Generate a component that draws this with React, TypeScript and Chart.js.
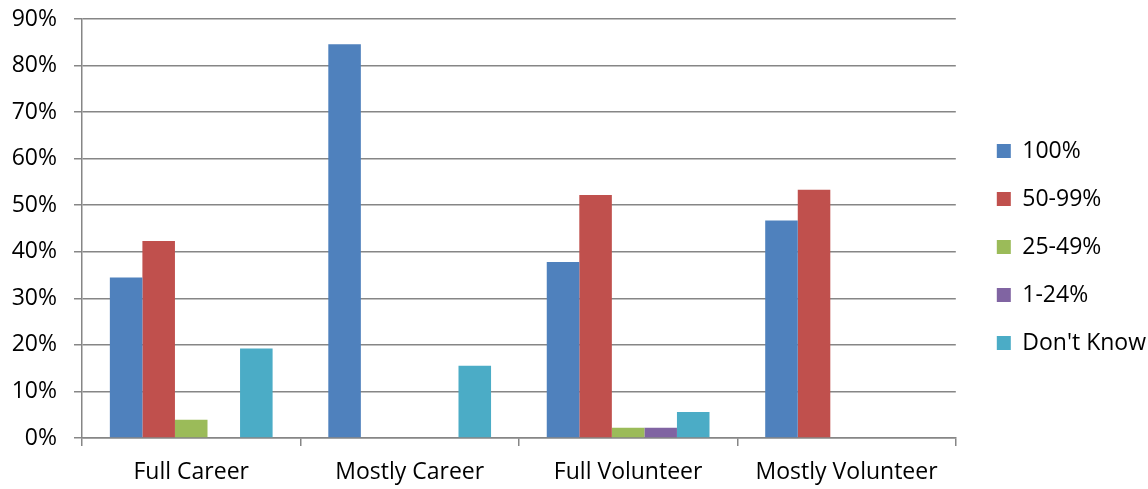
import React, { useEffect, useRef } from "react";
import { Chart, registerables } from "chart.js";

Chart.register(...registerables);

const categories = ["Full Career", "Mostly Career", "Full Volunteer", "Mostly Volunteer"];
const seriesNames = ["100%", "50-99%", "25-49%", "1-24%", "Don't Know"];
const s100 = [34.5, 84.6, 37.8, 46.7];
const s50to99 = [42.3, 0, 52.2, 53.3];
const s25to49 = [3.9, 0, 2.2, 0];
const s1to24 = [0, 0, 2.2, 0];
const sDontKnow = [19.2, 15.5, 5.6, 0];
const seriesColors = ["#4F81BD", "#C0504D", "#9BBB59", "#8064A2", "#4BACC6"];
const yTicks = [0, 10, 20, 30, 40, 50, 60, 70, 80, 90];

const FONT = "'Open Sans', sans-serif";

export default function App() {
  const ref = useRef<HTMLCanvasElement | null>(null);
  useEffect(() => {
    if (!ref.current) return;
    const values = [s100, s50to99, s25to49, s1to24, sDontKnow];
    const chart = new Chart(ref.current, {
      type: "bar",
      data: {
        labels: categories,
        datasets: seriesNames.map((name, i) => ({
          label: name,
          data: values[i],
          backgroundColor: seriesColors[i],
          borderWidth: 0,
          barPercentage: 1,
          categoryPercentage: 0.745,
          xAxisID: "x",
          yAxisID: "y",
        })),
      },
      options: {
        animation: false,
        responsive: false,
        layout: { padding: { top: 5, right: -8, bottom: 0, left: 0 } },
        plugins: {
          tooltip: { enabled: false },
          legend: {
            position: "right",
            align: "center",
            labels: {
              boxWidth: 14,
              boxHeight: 14,
              padding: 25,
              color: "#000",
              font: { family: FONT, size: 23 },
            },
          },
        },
        scales: {
          x: {
            type: "category",
            position: "bottom",
            grid: {
              offset: true,
              drawOnChartArea: false,
              drawTicks: true,
              tickLength: 8,
              color: "#868686",
              lineWidth: 1.5,
            },
            border: { display: true, color: "#868686", width: 1.5 },
            ticks: { color: "#000", font: { family: FONT, size: 23 }, padding: 13 },
            afterFit: (s: any) => {
              s.height = 51;
            },
          },
          y: {
            type: "linear",
            position: "left",
            min: 0,
            max: 90,
            afterBuildTicks: (s: any) => {
              s.ticks = yTicks.map((v) => ({ value: v }));
            },
            grid: {
              drawOnChartArea: true,
              drawTicks: true,
              tickLength: 8,
              color: "#868686",
              lineWidth: 1.5,
            },
            border: { display: true, color: "#868686", width: 1.5 },
            ticks: {
              color: "#000",
              font: { family: FONT, size: 23 },
              padding: 17,
              callback: (v: any) => v + "%",
            },
            afterFit: (s: any) => {
              s.width = 82;
              s.paddingTop = 19;
              s.paddingBottom = 0;
            },
          },
          y2: {
            type: "linear",
            position: "right",
            display: true,
            grid: { display: false },
            border: { display: false },
            ticks: { display: false },
            afterFit: (s: any) => {
              s.width = 16;
            },
          },
        },
      },
    });
    return () => chart.destroy();
  }, []);
  return (
    <div style={{ position: "absolute", left: 0, top: 0, width: 1148, height: 489 }}>
      <canvas ref={ref} width={1148} height={489} />
    </div>
  );
}
